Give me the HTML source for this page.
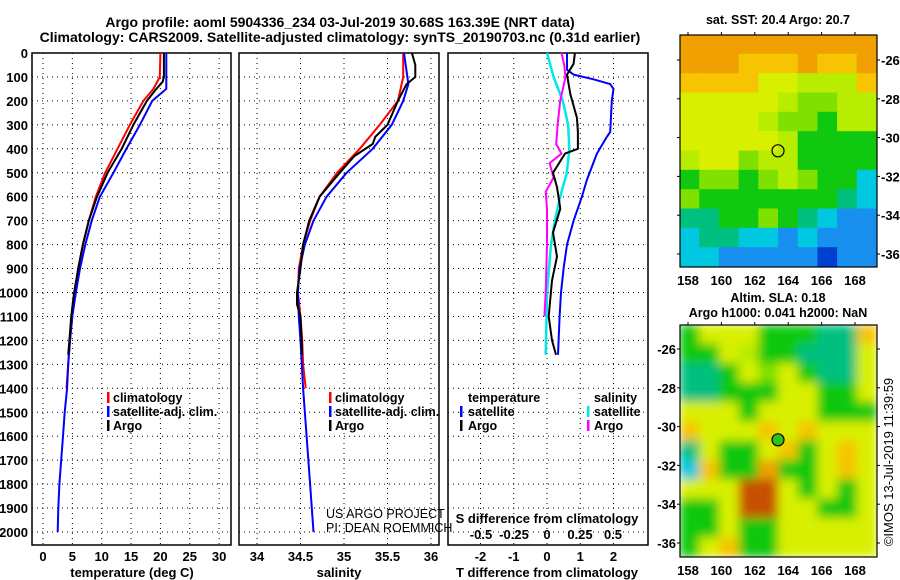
<!DOCTYPE html>
<html><head><meta charset="utf-8"><style>
html,body{margin:0;padding:0;background:#fff;}
svg{display:block;font-family:"Liberation Sans",Arial,sans-serif;}
.tk{font-size:13px;font-weight:bold;fill:#000;}
.lg{font-size:12.5px;font-weight:bold;fill:#000;}
.grid{stroke:#000;stroke-width:1;stroke-dasharray:1,4;}
</style></head><body>
<svg id="chart" width="900" height="580" viewBox="0 0 900 580" xmlns="http://www.w3.org/2000/svg">
<rect width="900" height="580" fill="#fff"/>
<text x="340" y="27" text-anchor="middle" style="font-size:14px;font-weight:bold">Argo profile: aoml 5904336_234 03-Jul-2019 30.68S 163.39E (NRT data)</text>
<text x="340" y="42" text-anchor="middle" style="font-size:14px;font-weight:bold">Climatology: CARS2009. Satellite-adjusted climatology: synTS_20190703.nc (0.31d earlier)</text>
<g id="p1"></g>
<g id="p2"></g>
<g id="p3"></g>
<g id="m1"></g>
<g id="m2"></g>
<text transform="translate(893,462) rotate(-90)" text-anchor="middle" style="font-size:13px">©IMOS 13-Jul-2019 11:39:59</text>
</svg>
<script>
// ---- data ----
const depthTicks=[0,100,200,300,400,500,600,700,800,900,1000,1100,1200,1300,1400,1500,1600,1700,1800,1900,2000];
const tempTicks=[0,5,10,15,20,25,30];
const salTicks=[34,34.5,35,35.5,36];
const salTickLabels=["34","34.5","35","35.5","36"];
const tdTicks=[-2,-1,0,1,2];
const sdTicks=[-0.5,-0.25,0,0.25,0.5];
const sdTickLabels=["-0.5","-0.25","0","0.25","0.5"];

const tClimD=[0,100,150,200,300,400,500,600,700,800,900,1000,1100,1200,1300,1400];
const tClimV=[20.0,19.9,18.8,17.1,14.8,12.7,10.6,9.0,7.8,6.8,6.0,5.4,5.0,4.6,4.3,4.0];
const tSatD=[0,150,200,300,400,500,600,700,800,900,1000,1100,1200,1300,1400,1500,1600,1700,1800,1900,2000];
const tSatV=[21.0,21.0,18.6,16.5,14.2,12.0,9.7,8.3,7.2,6.3,5.6,5.0,4.6,4.3,4.1,3.7,3.4,3.1,2.8,2.6,2.5];
const tArgoD=[0,100,120,150,200,300,400,500,600,700,800,900,1000,1100,1200,1260];
const tArgoV=[20.6,20.6,20.4,19.3,17.7,15.4,13.4,11.0,9.2,7.8,6.8,6.0,5.3,4.8,4.5,4.3];

const sClimD=[0,100,200,300,400,500,600,700,800,900,1000,1100,1200,1300,1400];
const sClimV=[35.68,35.68,35.62,35.41,35.18,34.92,34.72,34.61,34.53,34.48,34.47,34.50,34.52,34.53,34.56];
const sSatD=[0,130,200,300,400,500,600,700,800,900,1000,1100,1200,1400,1600,1800,2000];
const sSatV=[35.69,35.74,35.68,35.55,35.33,35.03,34.80,34.65,34.55,34.49,34.47,34.48,34.50,34.53,34.57,34.61,34.65];
const sArgoD=[0,50,100,130,200,300,350,380,430,500,600,700,800,900,1000,1050,1100,1260];
const sArgoV=[35.78,35.82,35.82,35.72,35.62,35.50,35.36,35.33,35.12,34.95,34.72,34.60,34.53,34.50,34.46,34.46,34.50,34.52];

const dtSatD=[0,70,90,110,130,150,200,330,350,420,530,600,700,800,900,1000,1100,1260];
const dtSatV=[0.6,0.6,0.8,1.4,1.9,2.0,1.95,1.9,1.8,1.5,1.2,1.05,0.8,0.6,0.5,0.42,0.38,0.33];
const dtArgoD=[0,45,90,171,270,330,400,420,500,560,650,750,850,950,1100,1200,1260];
const dtArgoV=[0.84,0.8,0.6,0.7,0.9,0.93,0.93,0.54,0.18,0.3,0.4,0.18,0.3,0.15,0.05,0.15,0.27];
const dsSatD=[0,100,200,300,400,500,600,700,800,1000,1260];
const dsSatV=[0,0.05,0.12,0.16,0.17,0.15,0.1,0.06,0.03,0.0,-0.01];
const dsArgoD=[0,50,100,200,300,380,420,460,520,580,650,800,1000,1100];
const dsArgoV=[0.11,0.13,0.14,0.1,0.08,0.07,0.11,0.02,0.05,-0.01,0.0,0.0,-0.01,-0.02];

const sstRows=["OOOOOOOOOO","OOOoooOooO","ooooYYyyyo","YYYYYyLLyy","YYYYyLLGyy","YYYYYyGGGG","yYYLyyGGGG","GLLGLyLGGC","LGGGGGGGTC","TTGGLGTCBB","CTTCCBCBBB","CCBBBBBDBB"];
const slaRows=["GYYYGGGTTo","GGYyGGTTTY","TTGYLYGTTY","TTGGGYYGGY","YYYGYYYGGG","oYYYoYoYYY","TYGGYoGYoY","CoGGOGGYoY","YYYRRYGYGY","GGYRRYYGGY","GGYGGYYYYY","GYoGGYYYYY"];
const palette={O:"#f0a000",o:"#f6c400",Y:"#d8f000",y:"#b8ec00",L:"#80e000",G:"#10c810",T:"#00c080",C:"#00c8e0",B:"#1890f0",D:"#0040d0",R:"#c85000"};
const lonTicks=[158,160,162,164,166,168];
const latTicks=[-26,-28,-30,-32,-34,-36];
const argoLon=163.39, argoLat=-30.68;

// ---- helpers ----
const NS="http://www.w3.org/2000/svg";
function mk(parent,tag,attrs){const e=document.createElementNS(NS,tag);for(const k in attrs)e.setAttribute(k,attrs[k]);parent.appendChild(e);return e;}
const yD=d=>53+d*0.2395;
const PT=545;
function frame(g,x0,x1){
  const r=mk(g,'rect',{x:x0,y:53,width:x1-x0,height:PT-53,fill:'none',stroke:'#000','stroke-width':1.5});
  
  
  depthTicks.forEach(d=>{
    const l=mk(g,'line',{x1:x0,x2:x1,y1:yD(d),y2:yD(d),class:'grid'});
    
    
  });
}
function vgrid(g,x){
  const l=mk(g,'line',{x1:x,x2:x,y1:53,y2:PT,class:'grid'});
  
  
}
function line(g,D,V,xf,color,w,name){
  const pts=D.map((d,i)=>xf(V[i]).toFixed(1)+','+yD(d).toFixed(1)).join(' ');
  const p=mk(g,'polyline',{points:pts,fill:'none',stroke:color,'stroke-width':w,'stroke-linejoin':'round'});
  
  
}
function txt(g,x,y,s,cls,anchor,name){
  const t=mk(g,'text',{x:x,y:y,class:cls,'text-anchor':anchor||'start'});t.textContent=s;
  
  
  return t;
}
function legendMark(g,x,y,color,name){
  const r=mk(g,'rect',{x:x,y:y-10,width:2.5,height:11,fill:color});
  
  
}

// ---- panel 1: temperature ----
const p1=document.getElementById('p1');
const xT=t=>43+t*5.87;
frame(p1,32,231);
tempTicks.forEach(t=>{vgrid(p1,xT(t));txt(p1,xT(t),561,String(t),'tk','middle','temperature-tick-label');});
depthTicks.forEach(d=>txt(p1,28,yD(d)+5,String(d),'tk','end','depth-tick-label'));
line(p1,tClimD,tClimV,xT,'#ff0000',2,'temperature-climatology-line');
line(p1,tSatD,tSatV,xT,'#0000ff',2,'temperature-satellite-line');
line(p1,tArgoD,tArgoV,xT,'#000',2,'temperature-argo-line');
txt(p1,132,577,'temperature (deg C)','tk','middle','temperature-axis-title');
legendMark(p1,107,402,'#ff0000','legend-climatology-mark');txt(p1,113,402,'climatology','lg','start','legend-climatology');
legendMark(p1,107,416,'#0000ff','legend-satellite-mark');txt(p1,113,416,'satellite-adj. clim.','lg','start','legend-satellite');
legendMark(p1,107,430,'#000','legend-argo-mark');txt(p1,113,430,'Argo','lg','start','legend-argo');

// ---- panel 2: salinity ----
const p2=document.getElementById('p2');
const xS=s=>257+(s-34)*87;
frame(p2,239,439);
salTicks.forEach((s,i)=>{vgrid(p2,xS(s));txt(p2,xS(s),561,salTickLabels[i],'tk','middle','salinity-tick-label');});
line(p2,sClimD,sClimV,xS,'#ff0000',2,'salinity-climatology-line');
line(p2,sSatD,sSatV,xS,'#0000ff',2,'salinity-satellite-line');
line(p2,sArgoD,sArgoV,xS,'#000',2,'salinity-argo-line');
txt(p2,339,577,'salinity','tk','middle','salinity-axis-title');
legendMark(p2,329,402,'#ff0000','legend-climatology-mark');txt(p2,335,402,'climatology','lg','start','legend-climatology');
legendMark(p2,329,416,'#0000ff','legend-satellite-mark');txt(p2,335,416,'satellite-adj. clim.','lg','start','legend-satellite');
legendMark(p2,329,430,'#000','legend-argo-mark');txt(p2,335,430,'Argo','lg','start','legend-argo');
const c1=txt(p2,326,518,'US ARGO PROJECT','', 'start','credit-project');c1.setAttribute('style','font-size:12.5px');
const c2=txt(p2,326,532,'PI: DEAN ROEMMICH','','start','credit-pi');c2.setAttribute('style','font-size:12.5px');

// ---- panel 3: differences ----
const p3=document.getElementById('p3');
const xDT=t=>547+t*33.25;
const xDS=s=>547+s*132;
frame(p3,448,648);
tdTicks.forEach(t=>{vgrid(p3,xDT(t));txt(p3,xDT(t),561,String(t),'tk','middle','tdiff-tick-label');});
sdTicks.forEach((s,i)=>txt(p3,xDS(s),539,sdTickLabels[i],'tk','middle','sdiff-tick-label'));
txt(p3,547,523,'S difference from climatology','tk','middle','sdiff-axis-title');
txt(p3,547,577,'T difference from climatology','tk','middle','tdiff-axis-title');
line(p3,dtSatD,dtSatV,xDT,'#0000ff',2,'tdiff-satellite-line');
line(p3,dsSatD,dsSatV,xDS,'#00e8e8',2.5,'sdiff-satellite-line');
line(p3,dsArgoD,dsArgoV,xDS,'#ff00ff',2,'sdiff-argo-line');
line(p3,dtArgoD,dtArgoV,xDT,'#000',2,'tdiff-argo-line');
txt(p3,468,402,'temperature','lg','start','legend-temperature-heading');
legendMark(p3,460,416,'#0000ff','legend-tsat-mark');txt(p3,468,416,'satellite','lg','start','legend-tsat');
legendMark(p3,460,430,'#000','legend-targo-mark');txt(p3,468,430,'Argo','lg','start','legend-targo');
txt(p3,594,402,'salinity','lg','start','legend-salinity-heading');
legendMark(p3,587,416,'#00e8e8','legend-ssat-mark');txt(p3,594,416,'satellite','lg','start','legend-ssat');
legendMark(p3,587,430,'#ff00ff','legend-sargo-mark');txt(p3,594,430,'Argo','lg','start','legend-sargo');

// ---- maps ----
function drawMap(g,rows,y0,lat0y,blur,fid,labelsLeft){
  const x0=680,x1=877,y1=y0+232;
  const xL=lon=>688+(lon-158)*16.7;
  const yL=lat=>lat0y+(-26-lat)*19.4;
  const cw=(x1-x0)/rows[0].length, ch=(y1-y0)/rows.length;
  const defs=mk(g,'defs',{});
  const cp=mk(defs,'clipPath',{id:fid+'c'});mk(cp,'rect',{x:x0,y:y0,width:x1-x0,height:y1-y0});
  if(blur){const f=mk(defs,'filter',{id:fid,x:'-10%',y:'-10%',width:'120%',height:'120%'});mk(f,'feGaussianBlur',{stdDeviation:blur});}
  const cg=mk(g,'g',{'clip-path':'url(#'+fid+'c)'});
  const hg=mk(cg,'g',blur?{filter:'url(#'+fid+')'}:{});
  rows.forEach((r,i)=>{for(let j=0;j<r.length;j++){
    const c=mk(hg,'rect',{x:(x0+j*cw-0.5).toFixed(1),y:(y0+i*ch-0.5).toFixed(1),width:(cw+1).toFixed(1),height:(ch+1).toFixed(1),fill:palette[r[j]]});
    
    
  }});
  const fr=mk(g,'rect',{x:x0,y:y0,width:x1-x0,height:y1-y0,fill:'none',stroke:'#000','stroke-width':1.2});
  
  
  lonTicks.forEach(l=>{mk(g,'line',{x1:xL(l),x2:xL(l),y1:y0-3,y2:y0,stroke:'#000'});txt(g,xL(l),y1+18,String(l),'tk','middle','longitude-tick-label');});
  latTicks.forEach(l=>{mk(g,'line',{x1:x0-3,x2:x0,y1:yL(l),y2:yL(l),stroke:'#000'});mk(g,'line',{x1:x1,x2:x1+3,y1:yL(l),y2:yL(l),stroke:'#000'});
    if(labelsLeft) txt(g,676,yL(l)+5,String(l),'tk','end','latitude-tick-label');
    else txt(g,881,yL(l)+5,String(l),'tk','start','latitude-tick-label');});
  const c=mk(g,'circle',{cx:xL(argoLon),cy:yL(argoLat),r:6,fill:blur?'#30c020':'none',stroke:'#000','stroke-width':1.2});
  
  
}
const m1=document.getElementById('m1');
txt(m1,778,24,'sat. SST: 20.4 Argo: 20.7','lg','middle','sst-map-title');
drawMap(m1,sstRows,35,60,0,'f1',false);
const m2=document.getElementById('m2');
txt(m2,778,302,'Altim. SLA: 0.18','lg','middle','sla-map-title');
txt(m2,778,317,'Argo h1000: 0.041 h2000: NaN','lg','middle','sla-map-subtitle');
drawMap(m2,slaRows,325,349,5,'f2',true);
</script>
</body></html>
